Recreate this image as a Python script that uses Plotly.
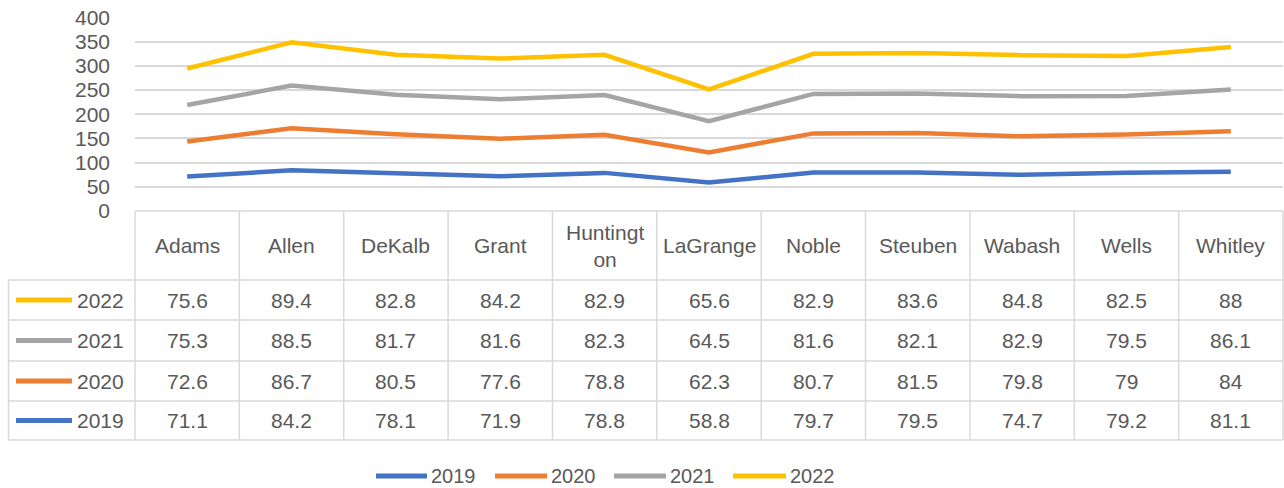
import numpy as np
import plotly.graph_objects as go

counties = ["Adams", "Allen", "DeKalb", "Grant", "Huntington", "LaGrange",
            "Noble", "Steuben", "Wabash", "Wells", "Whitley"]
header_labels = ["Adams", "Allen", "DeKalb", "Grant", "Huntingt<br>on", "LaGrange",
                 "Noble", "Steuben", "Wabash", "Wells", "Whitley"]
years = ["2019", "2020", "2021", "2022"]
v2019 = [71.1, 84.2, 78.1, 71.9, 78.8, 58.8, 79.7, 79.5, 74.7, 79.2, 81.1]
v2020 = [72.6, 86.7, 80.5, 77.6, 78.8, 62.3, 80.7, 81.5, 79.8, 79, 84]
v2021 = [75.3, 88.5, 81.7, 81.6, 82.3, 64.5, 81.6, 82.1, 82.9, 79.5, 86.1]
v2022 = [75.6, 89.4, 82.8, 84.2, 82.9, 65.6, 82.9, 83.6, 84.8, 82.5, 88]
series = [v2019, v2020, v2021, v2022]
colors = ["#4472C4", "#ED7D31", "#A5A5A5", "#FFC000"]
y_ticks = [0, 50, 100, 150, 200, 250, 300, 350, 400]

W, H = 1284, 488
FONT = "Liberation Sans"
TXT = "#595959"
GRID = "#D9D9D9"
FS = 21

def px(x):
    return x / W

def py(y):
    return 1 - y / H

x0, x1 = 135, 1283
y_bot = 211
y_max = 402
y_top = y_bot - (y_bot - 17.5) * y_max / 400

stacked = np.cumsum(np.array(series), axis=0)

fig = go.Figure()
for i, yr in enumerate(years):
    fig.add_trace(go.Scatter(
        x=list(range(len(counties))), y=stacked[i], mode="lines",
        line=dict(color=colors[i], width=4.5), name=yr, showlegend=False,
    ))

shapes = []
annotations = []

tbl_left = 8.5
col_w = (x1 - x0) / len(counties)
row_lines = [280, 320, 361, 401, 440]
lw = 1.5
shapes.append(dict(type="line", xref="paper", yref="paper", x0=px(x0), x1=px(x1),
                   y0=py(211), y1=py(211), line=dict(color=GRID, width=lw)))
for ry in row_lines:
    shapes.append(dict(type="line", xref="paper", yref="paper", x0=px(tbl_left), x1=px(x1),
                       y0=py(ry), y1=py(ry), line=dict(color=GRID, width=lw)))
shapes.append(dict(type="line", xref="paper", yref="paper", x0=px(tbl_left), x1=px(tbl_left),
                   y0=py(280), y1=py(440), line=dict(color=GRID, width=lw)))
for k in range(len(counties) + 1):
    xx = x0 + k * col_w
    shapes.append(dict(type="line", xref="paper", yref="paper", x0=px(xx), x1=px(xx),
                       y0=py(211), y1=py(440), line=dict(color=GRID, width=lw)))

for i, lab in enumerate(header_labels):
    annotations.append(dict(x=i, xref="x", y=py(246), yref="paper", text=lab,
                            showarrow=False, xanchor="center", yanchor="middle",
                            font=dict(family=FONT, size=FS, color=TXT)))

row_centers = [(row_lines[j] + row_lines[j + 1]) / 2 for j in range(4)]
for j, yi in enumerate([3, 2, 1, 0]):
    yc = row_centers[j]
    shapes.append(dict(type="line", xref="paper", yref="paper", x0=px(16), x1=px(72),
                       y0=py(yc), y1=py(yc), line=dict(color=colors[yi], width=5)))
    annotations.append(dict(x=px(75), xref="paper", y=py(yc), yref="paper", text=years[yi],
                            showarrow=False, xanchor="left", yanchor="middle",
                            font=dict(family=FONT, size=FS, color=TXT)))
    for i, v in enumerate(series[yi]):
        annotations.append(dict(x=i, xref="x", y=py(yc), yref="paper", text=f"{v:g}",
                                showarrow=False, xanchor="center", yanchor="middle",
                                font=dict(family=FONT, size=FS, color=TXT)))

leg_y = 476
leg_items = [(376, 427, 429), (495, 547, 549), (614, 666, 668), (733, 786, 788)]
for i, (a, b, t) in enumerate(leg_items):
    shapes.append(dict(type="line", xref="paper", yref="paper", x0=px(a), x1=px(b),
                       y0=py(leg_y), y1=py(leg_y), line=dict(color=colors[i], width=5)))
    annotations.append(dict(x=px(t), xref="paper", y=py(leg_y), yref="paper", text=years[i],
                            showarrow=False, xanchor="left", yanchor="middle",
                            font=dict(family=FONT, size=20, color=TXT)))

fig.update_layout(
    template="none",
    width=W, height=H, margin=dict(l=0, r=0, t=0, b=0, pad=0, autoexpand=False),
    paper_bgcolor="white", plot_bgcolor="white",
    shapes=shapes, annotations=annotations, showlegend=False,
    xaxis=dict(domain=[px(x0), px(x1)], range=[-0.5, len(counties) - 0.5],
               showgrid=False, showticklabels=False, zeroline=False, showline=False,
               ticks="", automargin=False, fixedrange=True),
    yaxis=dict(domain=[py(y_bot), py(y_top)], range=[0, y_max], tickvals=y_ticks,
               showgrid=True, gridcolor=GRID, gridwidth=1.5, zeroline=False, showline=False,
               ticks="", automargin=False, ticklabeloverflow="allow",
               tickfont=dict(family=FONT, size=FS, color=TXT), ticklabelstandoff=24,
               fixedrange=True),
)

fig.write_html("out.html", config={"displayModeBar": False},
               post_script="document.body.style.margin='0px';document.body.style.overflow='hidden';")
